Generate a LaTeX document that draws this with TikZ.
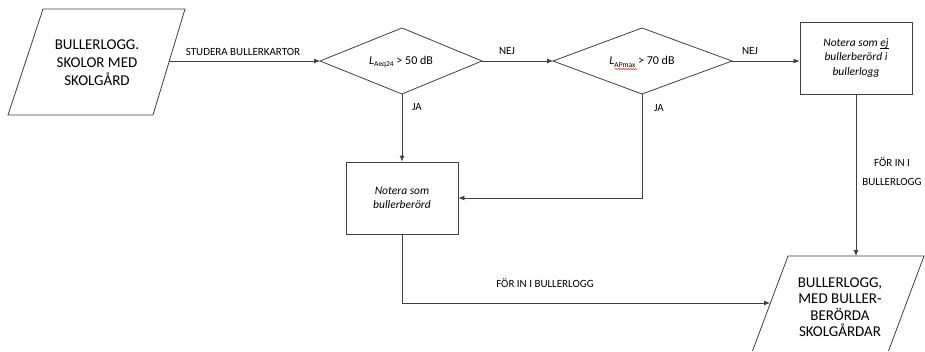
\documentclass[tikz,border=0pt]{standalone}
\usepackage{fontspec}
\setmainfont{Carlito}
\usetikzlibrary{arrows.meta,decorations.pathmorphing}
\newcommand{\ulword}[1]{\setbox0\hbox{#1}\rlap{\rule[-1.6pt]{\wd0}{0.45pt}}#1}
\begin{document}
\begin{tikzpicture}[x=1pt,y=-1pt,
 ln/.style={draw=black!75,line width=0.8pt},
 arr/.style={ln,-{Latex[length=6pt,width=5pt]}},
 lbl/.style={font=\fontsize{11}{19}\selectfont,inner sep=0pt,align=center},
 bigtxt/.style={font=\fontsize{15}{18}\selectfont,align=center,inner sep=0pt},
 dtxt/.style={font=\fontsize{12}{14}\selectfont,inner sep=0pt},
 boxstyle/.style={ln,minimum width=112pt,minimum height=72pt,inner sep=0pt,align=center,font=\fontsize{11.5}{14.5}\selectfont\itshape}]
\useasboundingbox (0,0) rectangle (925,351);
\fill[white] (0,0) rectangle (925,351);

% input parallelogram
\coordinate (p1a) at (43,9);
\coordinate (p1b) at (185,9);
\coordinate (p1c) at (153,115);
\coordinate (p1d) at (8,115);
\draw[ln] (p1a) -- (p1b) -- (p1c) -- (p1d) -- cycle;
\node[bigtxt] (p1) at (97,63) {BULLERLOGG.\\SKOLOR MED\\SKOLGÅRD};
\coordinate (p1r) at (169,61);

% diamond 1
\coordinate (d1l) at (320,61);
\coordinate (d1t) at (402,28);
\coordinate (d1r) at (482,61);
\coordinate (d1b) at (402,94);
\draw[ln] (d1l) -- (d1t) -- (d1r) -- (d1b) -- cycle;
\node[dtxt] (d1) at (401,62) {\itshape L\upshape\raisebox{-2.5pt}{\fontsize{7.5}{8}\selectfont Aeq24} > 50 dB};

% diamond 2
\coordinate (d2l) at (553,61);
\coordinate (d2t) at (642,28);
\coordinate (d2r) at (732,61);
\coordinate (d2b) at (642,94);
\draw[ln] (d2l) -- (d2t) -- (d2r) -- (d2b) -- cycle;
\node[dtxt] (d2) at (642,62) {\itshape L\upshape\raisebox{-2.5pt}{\fontsize{7.5}{8}\selectfont APmax} > 70 dB};
\coordinate (sq1) at (615,69);
\coordinate (sq2) at (637,69);
\draw[red!80,line width=0.5pt,decorate,decoration={snake,amplitude=0.7pt,segment length=2.5pt}] (sq1) -- (sq2);

% boxes
\node[boxstyle] (b3) at (856,58) {Notera som \ulword{ej}\\bullerberörd i\\bullerlogg};
\node[boxstyle] (b2) at (402,198) {Notera som\\bullerberörd};

% output parallelogram
\coordinate (p2a) at (788,256);
\coordinate (p2b) at (924,256);
\coordinate (p2c) at (888.5,351);
\coordinate (p2d) at (752.5,351);
\draw[ln] (p2d) -- (p2a) -- (p2b) -- (p2c);
\node[bigtxt,font=\fontsize{15}{16.5}\selectfont] (p2) at (840,307) {BULLERLOGG,\\MED BULLER-\\BERÖRDA\\SKOLGÅRDAR};
\coordinate (p2in) at (770,303);
\coordinate (p2top) at (857,256);

% connectors
\draw[arr] (p1r) -- (d1l);
\node[lbl] (l1) at (243,52) {STUDERA BULLERKARTOR};
\draw[arr] (d1r) -- (d2l);
\node[lbl] (l2) at (507,51) {NEJ};
\draw[arr] (d2r) -- (d2r -| b3.west);
\node[lbl] (l3) at (750,51) {NEJ};
\draw[arr] (d1b) -- (b2.north);
\node[lbl] (l4) at (417,107) {JA};
\draw[arr] (d2b) |- (b2.east);
\node[lbl] (l5) at (659,108) {JA};
\draw[arr] (b2.south) |- (p2in);
\node[lbl] (l6) at (545,283) {FÖR IN I BULLERLOGG};
\draw[arr] (b3.south) -- (b3.south |- p2top);
\node[lbl] (l7) at (892,172) {FÖR IN I\\BULLERLOGG};
\end{tikzpicture}
\end{document}
